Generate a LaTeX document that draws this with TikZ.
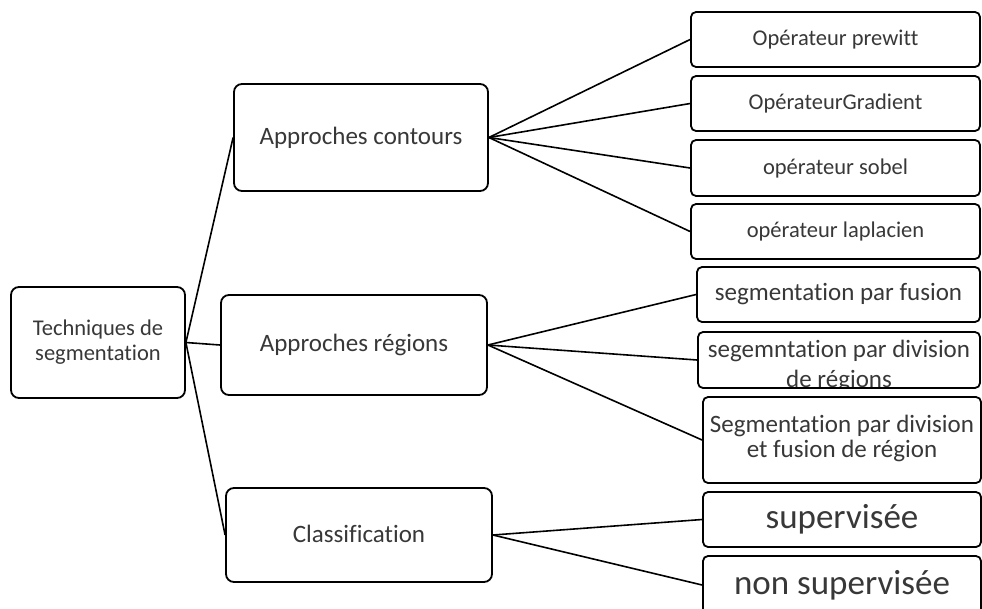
\documentclass[tikz,border=0pt]{standalone}
\usepackage{fontspec}
\setmainfont{Carlito}[Ligatures=NoCommon]
\begin{document}
\begin{tikzpicture}[x=1pt,y=-1pt,
  box/.style={draw=black,line width=1.8pt,rounded corners=8pt,inner sep=0pt,align=center,text=black!78,fill=white},
  sbox/.style={box,rounded corners=5pt},
  link/.style={line width=1.6pt}]
\useasboundingbox (0,0) rectangle (982,608);
\node[box,minimum width=174pt,minimum height=111pt,font=\fontsize{22.5}{25}\selectfont] (root) at (98,342.5) {Techniques de\\segmentation};
\node[box,minimum width=254pt,minimum height=107pt,font=\fontsize{25}{28}\selectfont] (ac) at (361,137.5) {\raisebox{3pt}{Approches contours}};
\node[box,minimum width=266pt,minimum height=100pt,font=\fontsize{25}{28}\selectfont] (ar) at (354,345) {\raisebox{3pt}{Approches régions}};
\node[box,minimum width=266pt,minimum height=94pt,font=\fontsize{25}{28}\selectfont] (cl) at (359,535) {\raisebox{3pt}{Classification}};
\node[sbox,minimum width=289pt,minimum height=55pt,font=\fontsize{22.5}{25}\selectfont] (p1) at (835.5,39.5) {\raisebox{3pt}{Opérateur prewitt}};
\node[sbox,minimum width=289pt,minimum height=55pt,font=\fontsize{22.5}{25}\selectfont] (p2) at (835.5,103.5) {\raisebox{3pt}{OpérateurGradient}};
\node[sbox,minimum width=289pt,minimum height=56pt,font=\fontsize{22.5}{25}\selectfont] (p3) at (835.5,168) {\raisebox{3pt}{opérateur sobel}};
\node[sbox,minimum width=289pt,minimum height=55pt,font=\fontsize{22.5}{25}\selectfont] (p4) at (835.5,231.5) {\raisebox{3pt}{opérateur laplacien}};
\node[sbox,minimum width=283pt,minimum height=55pt,font=\fontsize{25}{28}\selectfont] (r1) at (838.5,294.5) {\raisebox{5pt}{segmentation par fusion}};
\begin{scope}
\clip (698,333) rectangle (980,387);
\node[inner sep=0pt,align=center,text=black!78,font=\fontsize{25}{30}\selectfont,anchor=north] (r2t) at (839,340) {segemntation par division\\de régions};
\end{scope}
\node[sbox,minimum width=282pt,minimum height=56pt,fill=none] (r2) at (839,360) {};
\node[sbox,minimum width=278pt,minimum height=86pt,font=\fontsize{25}{27}\selectfont] (r3) at (842,440) {\raisebox{3pt}{\begin{tabular}{@{}c@{}}Segmentation par division\\[-2pt]et fusion de région\end{tabular}}};
\node[sbox,minimum width=278pt,minimum height=55pt,font=\fontsize{35}{40}\selectfont] (c1) at (842,519.5) {\raisebox{2pt}{supervisée}};
\node[sbox,minimum width=278pt,minimum height=58pt,font=\fontsize{35}{40}\selectfont] (c2) at (842,585) {\raisebox{2pt}{non supervisée}};
\draw[link] (root.east) -- (ac.west);
\draw[link] (root.east) -- (ar.west);
\draw[link] (root.east) -- (cl.west);
\foreach \n in {p1,p2,p3,p4} \draw[link] (ac.east) -- (\n.west);
\foreach \n in {r1,r2,r3} \draw[link] (ar.east) -- (\n.west);
\foreach \n in {c1,c2} \draw[link] (cl.east) -- (\n.west);
\end{tikzpicture}
\end{document}
